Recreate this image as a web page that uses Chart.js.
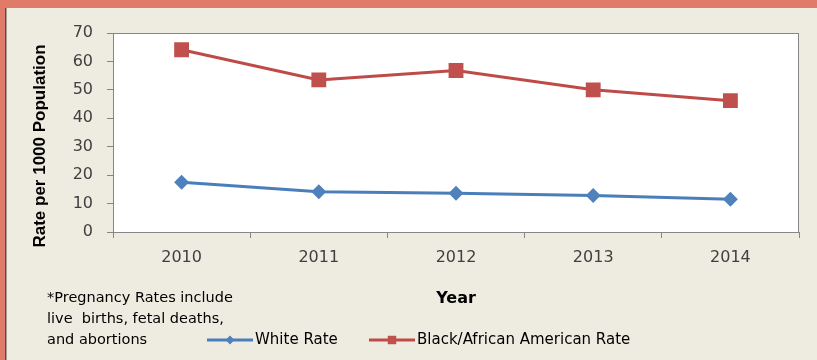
<!DOCTYPE html>
<html>
<head>
<meta charset="utf-8">
<script src="https://cdn.jsdelivr.net/npm/chart.js@4/dist/chart.umd.min.js"></script>
<style>
	body { margin: 0; background: #eeece1; }
	#wrap { width: 817px; height: 360px; }
</style>
</head>
<body>
<div id="wrap"><canvas id="myChart-rates" width="817" height="360"></canvas></div>
<script>
const years = ["2010", "2011", "2012", "2013", "2014"];
const whiteRate = [17.5, 14.2, 13.6, 12.8, 11.5];
const blackRate = [64.1, 53.5, 56.8, 50.0, 46.2];
const seriesLabels = ["White Rate", "Black/African American Rate"];
const yTicks = [0, 10, 20, 30, 40, 50, 60, 70];
const footnote = ["*Pregnancy Rates include", "live  births, fetal deaths,", "and abortions"];

const FONT = "'DejaVu Sans', sans-serif";

const framePlugin = {
	id: "frame",
	beforeDraw(chart) {
		const ctx = chart.ctx;
		const a = chart.chartArea;
		ctx.save();
		ctx.fillStyle = "#eeece1";
		ctx.fillRect(0, 0, chart.width, chart.height);
		ctx.fillStyle = "#e07b6a";
		ctx.fillRect(0, 0, chart.width, 8);
		ctx.fillRect(0, 0, 5, chart.height);
		ctx.fillStyle = "#5b4c44";
		ctx.fillRect(5, 8, 1.5, chart.height - 8);
		ctx.fillStyle = "#ffffff";
		ctx.fillRect(a.left, a.top, a.right - a.left, a.bottom - a.top);
		ctx.restore();
	},
	afterDraw(chart) {
		const ctx = chart.ctx;
		const a = chart.chartArea;
		ctx.save();
		ctx.strokeStyle = "#868686";
		ctx.lineWidth = 1;
		ctx.strokeRect(a.left + 0.5, a.top + 0.5, a.right - a.left - 1, a.bottom - a.top);

		// y axis title
		ctx.fillStyle = "#000";
		ctx.font = "bold 17px 'Liberation Sans', sans-serif";
		ctx.textAlign = "center";
		ctx.textBaseline = "middle";
		ctx.translate(40, 146);
		ctx.rotate(-Math.PI / 2);
		ctx.fillText("Rate per 1000 Population", 0, 0);
		ctx.restore();

		// footnote
		ctx.save();
		ctx.fillStyle = "#000";
		ctx.font = "14.5px " + FONT;
		ctx.textAlign = "left";
		ctx.textBaseline = "middle";
		[298, 319, 340].forEach((y, i) => ctx.fillText(footnote[i], 47, y));

		// legend
		const items = [
			{ x0: 207, x1: 253, tx: 255 },
			{ x0: 369, x1: 415, tx: 417 },
		];
		ctx.font = "15px " + FONT;
		chart.data.datasets.forEach((ds, i) => {
			const it = items[i];
			const y = 340;
			ctx.strokeStyle = ds.borderColor;
			ctx.lineWidth = 3;
			ctx.beginPath();
			ctx.moveTo(it.x0, y);
			ctx.lineTo(it.x1, y);
			ctx.stroke();
			ctx.fillStyle = ds.pointBackgroundColor;
			Chart.helpers.drawPoint(ctx, {
				pointStyle: ds.pointStyle,
				radius: ds.pointStyle === "rect" ? 6 : 4.5,
				borderWidth: 0,
			}, (it.x0 + it.x1) / 2, y);
			ctx.fillStyle = "#000";
			ctx.fillText(ds.label, it.tx, y);
		});
		ctx.restore();
	},
};

document.addEventListener("DOMContentLoaded", () => {
	let chartRates = document.getElementById("myChart-rates").getContext("2d");
	let RatesChart = new Chart(chartRates, {
		type: "line",
		data: {
			labels: years,
			datasets: [
				{
					label: seriesLabels[0],
					data: whiteRate,
					borderColor: "#4a7ebb",
					backgroundColor: "#4f81bd",
					pointBackgroundColor: "#4f81bd",
					pointBorderWidth: 0,
					pointStyle: "rectRot",
					pointRadius: 7.5,
					borderWidth: 3,
					tension: 0,
				},
				{
					label: seriesLabels[1],
					data: blackRate,
					borderColor: "#be4b48",
					backgroundColor: "#c0504d",
					pointBackgroundColor: "#c0504d",
					pointBorderWidth: 0,
					pointStyle: "rect",
					pointRadius: 10.5,
					borderWidth: 3,
					tension: 0,
				},
			],
		},
		options: {
			responsive: false,
			animation: false,
			layout: {
				padding: { left: 0, top: 33, right: 18, bottom: 0 },
			},
			plugins: {
				legend: { display: false },
				tooltip: { enabled: false },
			},
			scales: {
				x: {
					type: "category",
					offset: true,
					grid: {
						offset: true,
						drawOnChartArea: false,
						tickLength: 6,
						color: "#868686",
					},
					border: { color: "#868686" },
					ticks: {
						color: "#404040",
						padding: 10,
						font: { family: FONT, size: 16 },
					},
					title: {
						display: true,
						text: "Year",
						color: "#000",
						font: { family: FONT, size: 16, weight: "bold" },
						padding: { top: 0, bottom: 52 },
					},
					afterFit: (s) => {
						s.height = 128;
					},
				},
				y: {
					min: 0,
					max: 70,
					afterBuildTicks: (s) => {
						s.ticks = yTicks.map((v) => ({ value: v }));
					},
					grid: {
						drawOnChartArea: false,
						tickLength: 6,
						color: "#868686",
					},
					border: { color: "#868686" },
					ticks: {
						color: "#404040",
						padding: 14,
						font: { family: FONT, size: 16 },
					},
					afterFit: (s) => {
						s.width = 113;
					},
				},
			},
		},
		plugins: [framePlugin],
	});
});
</script>
</body>
</html>
